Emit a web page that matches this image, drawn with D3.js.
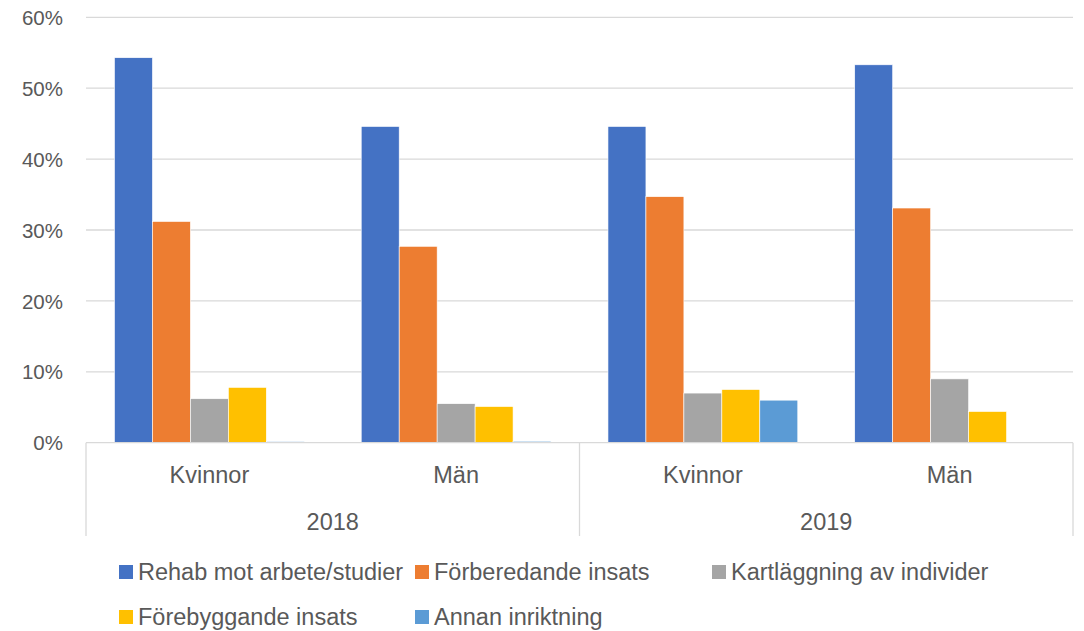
<!DOCTYPE html>
<html><head><meta charset="utf-8">
<script src="https://cdn.jsdelivr.net/npm/d3@7"></script>
<style>body{margin:0;background:#fff}svg{display:block}text{font-family:"Liberation Sans",Arial,sans-serif;fill:#595959}</style>
</head><body><svg id="c" width="1084" height="631"></svg>
<script>
const years = ["2018", "2019"];
const genders = ["Kvinnor", "Män"];
const series = ["Rehab mot arbete/studier", "Förberedande insats", "Kartläggning av individer", "Förebyggande insats", "Annan inriktning"];
const colors = ["#4472C4", "#ED7D31", "#A5A5A5", "#FFC000", "#5B9BD5"];
const rehab = [54.3, 44.6, 44.6, 53.3];
const forberedande = [31.2, 27.7, 34.7, 33.1];
const kartlaggning = [6.2, 5.5, 7.0, 9.0];
const forebyggande = [7.8, 5.1, 7.5, 4.4];
const annan = [0.15, 0.2, 6.0, 0.0];
const yTicks = [0, 10, 20, 30, 40, 50, 60];

const values = [rehab, forberedande, kartlaggning, forebyggande, annan];
const cats = [];
years.forEach(y => genders.forEach(g => cats.push(y + "|" + g)));

const svg = d3.select("#c");
const L = 86, R = 1073, T = 17.3, B = 442.7;
const x0 = d3.scaleBand().domain(cats).range([L, R]).paddingInner(0).paddingOuter(0);
const bw = x0.bandwidth() / 6.5;
const x1 = d3.scaleBand().domain(series).range([0.75 * bw, x0.bandwidth() - 0.75 * bw]);
const y = d3.scaleLinear().domain([0, 60]).range([B, T]);

// gridlines
svg.append("g").selectAll("line").data(yTicks.filter(d => d > 0)).join("line")
  .attr("x1", L).attr("x2", R).attr("y1", d => y(d)).attr("y2", d => y(d))
  .attr("stroke", "#d9d9d9").attr("stroke-width", 1.3);

// y labels
const yAxis = d3.axisLeft(y).tickValues(yTicks).tickFormat(d => d + "%").tickSize(0).tickPadding(0);
const ya = svg.append("g").attr("transform", `translate(${L - 23},0)`).call(yAxis);
ya.select(".domain").remove();
ya.selectAll("text").style("font-size", "20.5px").attr("fill", "#595959")
  .style("font-family", '"Liberation Sans",Arial,sans-serif').attr("dy", "0.35em");

// bars
cats.forEach((c, ci) => {
  const g = svg.append("g").attr("transform", `translate(${x0(c)},0)`);
  series.forEach((s, si) => {
    const v = values[si][ci];
    if (v <= 0) return;
    g.append("rect").attr("x", x1(s)).attr("width", x1.bandwidth())
      .attr("y", y(v)).attr("height", y(0) - y(v))
      .attr("fill", colors[si]).attr("stroke", "#fff").attr("stroke-width", 0.6);
  });
});

// category axis box
const axisG = svg.append("g").attr("stroke", "#d9d9d9").attr("stroke-width", 1.3);
axisG.append("line").attr("x1", L).attr("x2", R).attr("y1", B).attr("y2", B);
const xYear = d3.scaleBand().domain(years).range([L, R]);
[L, xYear("2019"), R].forEach(xx => {
  axisG.append("line").attr("x1", xx).attr("x2", xx).attr("y1", B).attr("y2", 536);
});

// gender labels
svg.append("g").selectAll("text").data(cats).join("text")
  .attr("x", d => x0(d) + x0.bandwidth() / 2).attr("y", 475).attr("dy", "0.35em")
  .attr("text-anchor", "middle").style("font-size", "23.5px").text(d => d.split("|")[1]);
// year labels
svg.append("g").selectAll("text").data(years).join("text")
  .attr("x", d => xYear(d) + xYear.bandwidth() / 2).attr("y", 521.5).attr("dy", "0.35em")
  .attr("text-anchor", "middle").style("font-size", "23.5px").text(d => d);

// legend
const legPos = [[119, 572], [415, 572], [712, 572], [119, 617], [415, 617]];
series.forEach((s, i) => {
  const [lx, ly] = legPos[i];
  svg.append("rect").attr("x", lx).attr("y", ly - 7).attr("width", 14).attr("height", 14).attr("fill", colors[i]);
  svg.append("text").attr("x", lx + 19).attr("y", ly).attr("dy", "0.35em")
    .style("font-size", "23.5px").text(s);
});
</script></body></html>
